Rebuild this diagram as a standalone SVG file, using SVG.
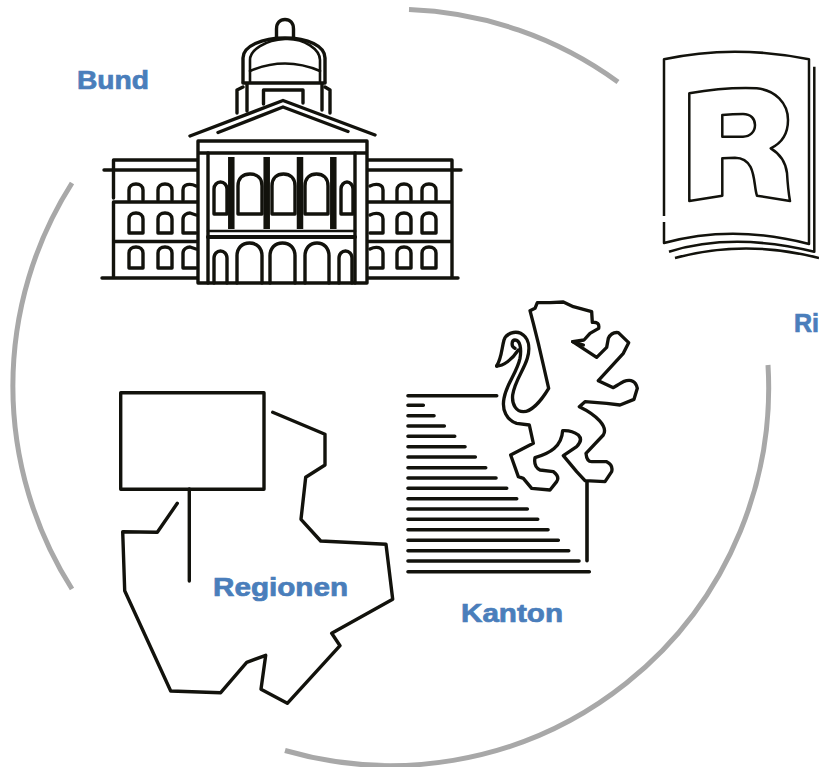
<svg xmlns="http://www.w3.org/2000/svg" width="819" height="767" viewBox="0 0 819 767">
<style>
.ring{fill:none;stroke:#a8a8a8;stroke-width:5}
.l{fill:none;stroke:#12120c;stroke-width:3.4;stroke-linejoin:round;stroke-linecap:round}
.m{fill:none;stroke:#12120c;stroke-width:2.6;stroke-linejoin:round;stroke-linecap:round}
.b{fill:none;stroke:#12120c;stroke-width:2.5;stroke-linejoin:round;stroke-linecap:butt}
.c{fill:none;stroke:#12120c;stroke-width:6.5}
.s{fill:none;stroke:#12120c;stroke-width:3.6;stroke-linecap:round}
.lion{fill:none;stroke:#12120c;stroke-width:10;stroke-linejoin:round;stroke-linecap:round}
.t{fill:#4a7ebb;stroke:#4a7ebb;stroke-width:.7;font-family:"Liberation Sans",Arial,sans-serif;font-weight:700;font-size:25.5px}
</style>
<rect width="819" height="767" fill="#fff"/>
<g id="connectors">
<path class="ring" d="M409 9.500A378 378 0 0 1 618 82"/>
<path class="ring" d="M768 365A378 378 0 0 1 285 750.500"/>
<path class="ring" d="M72 589A378 378 0 0 1 72 183"/>
</g>
<g id="bund">
<path class="l" d="M276.500 37V29C276.500 23 280 19.500 285 19.500S293.500 23 293.500 29V37"/>
<path class="l" d="M243 82V58C243 46 262 38 285 38S325 46 325 58V82"/>
<path class="m" d="M250 82V60C250 50 265 40 285 39S320 50 320 60V82"/>
<path class="m" d="M250 71Q285 56 320 71"/>
<path class="l" d="M243 83H325"/>
<path class="l" d="M237 113V90L243 87M330 113V90L325 87"/>
<path class="l" d="M247 84V111M322 84V110"/>
<path class="l" d="M263.500 104V90H303V103"/>
<path class="l" d="M190 136L283 100.500L375 135"/>
<path class="l" d="M218 132.500L283 107L348 131.500"/>
<path class="l" d="M198 283V141H367V283ZM198 153H367"/>
<path class="l" d="M208 153V283M355 153V283"/>
<path class="c" d="M231.300 157V229M266.700 157V229M300 157V229M333.300 157V229"/>
<path class="m" d="M208 231H355"/>
<path class="l" style="stroke-width:4" d="M208 237H355"/>
<path class="l" d="M238 214V186C238 178 243 174 250 174S262 178 262 186V214ZM272 214V186C272 178 277 174 283.500 174S295 178 295 186V214ZM305 214V186C305 178 310 174 316.500 174S328 178 328 186V214Z"/>
<path class="l" d="M214 214V189C214 185 217 182 220.500 182S227 185 227 189V214ZM341 214V189C341 185 344 182 347 182S353 185 353 189V214Z"/>
<path class="l" d="M237 283V256C237 248 242 243 249.500 243S262 248 262 256V283M270 283V256C270 248 275 243 282.500 243S295 248 295 256V283M305 283V256C305 248 310 243 317 243S329 248 329 256V283"/>
<path class="l" d="M214 283V258C214 254 217 251 220.500 251S227 254 227 258V283M339 283V258C339 254 342 251 345.500 251S352 254 352 258V283"/>
<path class="l" d="M197 160H113.500V198M113.500 202V278M197 170H104M197 202H113.500M197 241.500H113.500M197 278H102"/>
<path class="l" d="M368 160H452V278M368 170H461M368 202H452M368 241.500H452M368 278H458"/>
<path class="l" d="M129 200V190C129 186 132 184 136 184S143 186 143 190V200M158 200V190C158 186 161 184 165 184S172 186 172 190V200M196 186C190 183 183 184 183 190V200"/>
<path class="l" d="M129 233V219C129 215 132 213 136 213S143 215 143 219V233ZM158 233V219C158 215 161 213 165 213S172 215 172 219V233ZM196 233H183V219C183 215 187 213 190 213L196 215"/>
<path class="l" d="M129 268V253C129 249 132 247 136 247S143 249 143 253V268ZM158 268V253C158 249 161 247 165 247S172 249 172 253V268ZM196 268H183V253C183 249 187 247 190 247L196 249"/>
<path class="l" d="M370 186C376 183 383 184 383 190V200M397 200V190C397 186 400 184 404 184S411 186 411 190V200M422 200V190C422 186 425 184 429 184S436 186 436 190V200"/>
<path class="l" d="M370 215C376 212 383 213 383 219V233H370M397 233V219C397 215 400 213 404 213S411 215 411 219V233ZM422 233V219C422 215 425 213 429 213S436 215 436 219V233Z"/>
<path class="l" d="M370 249C376 246 383 247 383 253V268H370M397 268V253C397 249 400 247 404 247S411 249 411 253V268ZM422 268V253C422 249 425 247 429 247S436 249 436 253V268Z"/>
<text class="t" x="77" y="89" textLength="72" lengthAdjust="spacingAndGlyphs">Bund</text>
</g>
<g id="richtplan">
<path class="b" d="M664 216V59.300Q733 44 809 59.300V244Q733 224 664 243V222"/>
<path class="b" d="M814.300 66.700V251.700Q733 232 669 251.700"/>
<path class="b" d="M675 258Q745 239 819 258"/>
<path class="b" d="M689.300 93.300Q725 87 756.700 88.300C775 90 788 103 788 120C788 134 782 143 770.700 148.300C782 155 786 165 787 173Q788 190 790 201L757 195.700C753 185 757 158 735 157.700L722.300 158.300V195.700L689.300 201Z"/>
<path class="b" d="M722.300 115Q733 114 743 114C751 114 755 119 755 125C755 132 750 136.700 743 136.700H722.300Z"/>
<text class="t" x="794" y="332" textLength="25" lengthAdjust="spacingAndGlyphs">Ri</text>
</g>
<g id="kanton">
<g transform="translate(400 290) scale(.33333)">
<path class="lion" d="M290 228C305 205 305 175 312 150C318 130 345 122 362 130C385 142 392 170 382 205C372 240 345 270 338 315C335 345 350 365 370 365C395 365 425 330 446 295L430 225L415 160L400 100L390 62L405 55L412 38L450 38L490 36L520 50L575 65L577 97Q600 95 596 115L570 130L552 150L518 155L590 202L620 172L625 145Q635 125 655 128L686 158L670 190L595 272L640 293Q660 280 670 275Q705 262 712 295L702 328L660 345L620 340L555 335L538 350C590 375 625 410 610 435L558 490Q560 515 575 515L620 515Q640 525 635 545L615 575L555 572L530 545L490 497L530 470Q550 450 535 435Q515 420 488 422C485 470 450 490 405 503Q400 530 420 540L460 545Q480 560 470 575L450 600L395 595L370 565L355 560L332 495L400 460L388 405L350 400C320 390 305 360 312 325C320 280 350 250 360 205C365 175 360 150 345 150C335 150 332 170 345 175"/>
<path class="lion" d="M290 228C310 228 335 210 355 180M518 155L550 165"/>
</g>
<path class="s" d="M408 395.700H496.700M408 405.300H423.300M408 415.700H434M408 426H444.300M408 436.300H454.700M408 446.700H465M408 457H475.300M408 467.700H485.700M408 478H496M408 488.300H506.700M408 498.700H516.700M408 509H527.300M408 519.300H537.700M408 529.700H548M408 540.300H558.300M408 550.700H568.700M408 561H579M408 571.700H589.300"/>
<path class="s" d="M587 481.700V560.700"/>
<text class="t" x="461" y="622" textLength="102" lengthAdjust="spacingAndGlyphs">Kanton</text>
</g>
<g id="regionen">
<rect class="l" x="120.700" y="392.700" width="143.300" height="96.600"/>
<path class="l" d="M189.300 489V581"/>
<path class="l" d="M177.300 503.300L157.300 532.300L122.700 531.700L124.700 590.700L170.700 691L220.700 692.700L246.700 662.300L265.700 655.300L261 689.300L287.300 703.300L340 645.700L331.700 633.300L392.700 599.300L386 544.300L320.700 541L301 519.300L305.700 477.300L325 465V434.300L272.700 412.300"/>
<text class="t" x="213" y="596" textLength="135" lengthAdjust="spacingAndGlyphs">Regionen</text>
</g>
</svg>
